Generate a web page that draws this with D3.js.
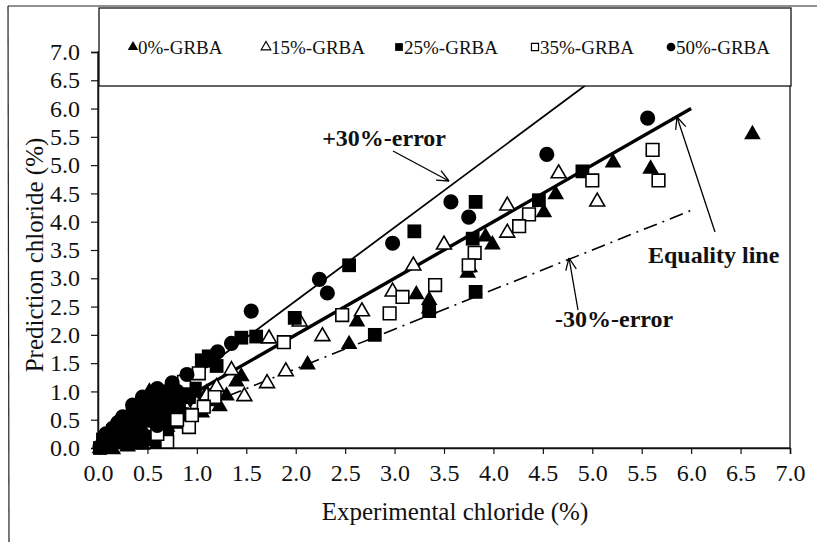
<!DOCTYPE html>
<html><head><meta charset="utf-8">
<script src="https://cdn.jsdelivr.net/npm/d3@7"></script>
<style>
html,body{margin:0;padding:0;background:#fff;}
svg{display:block;font-family:"Liberation Serif","Times New Roman",serif;}
</style></head>
<body>
<svg id="chart" width="817" height="542"></svg>
<script>
// ---------- DATA ----------
const tickValues = [0,0.5,1,1.5,2,2.5,3,3.5,4,4.5,5,5.5,6,6.5,7];
const legendLabels = ["0%-GRBA","15%-GRBA","25%-GRBA","35%-GRBA","50%-GRBA"];

const grba0 = [ // filled triangle
 [6.62,5.57],[5.21,5.07],[5.59,4.96],[4.63,4.51],[4.51,4.19],[3.99,3.62],[3.92,3.76],
 [3.74,3.12],[3.76,3.22],[3.22,2.74],[3.35,2.49],[3.35,2.64],[2.62,2.26],[2.54,1.86],[2.12,1.50],
 [1.40,1.20],[1.45,1.29],[1.23,0.76],[1.15,0.85],[1.30,0.95],[0.52,1.02],
 [0.02,0.02],[0.05,0.08],[0.08,0.04],[0.10,0.15],[0.12,0.10],[0.15,0.22],[0.18,0.12],[0.20,0.30],
 [0.22,0.20],[0.25,0.35],[0.28,0.25],[0.30,0.45],[0.33,0.30],[0.36,0.50],[0.40,0.42],[0.42,0.60],
 [0.45,0.35],[0.48,0.80],[0.50,0.55],[0.58,0.60],[0.62,0.75],[0.65,0.50],[0.70,0.70],
 [0.75,0.62],[0.80,0.85],[0.85,0.55],[0.90,0.90],[0.95,0.70],[1.00,0.90],[1.05,0.65],[1.10,1.00],
 [0.15,0.00],[0.30,0.05],[0.45,0.08],[0.60,0.10],
 [0.05,0.20],[0.10,0.30],[0.20,0.50],[0.25,0.15],[0.35,0.20],[0.40,0.65],[0.55,0.30],[0.60,0.85],
 [0.70,0.40],[0.80,0.45],[0.90,0.55]
];
const grba15 = [ // open triangle
 [4.66,4.88],[5.05,4.38],[4.14,4.31],[4.14,3.83],[3.50,3.62],[3.19,3.25],[2.98,2.79],
 [2.67,2.44],[2.27,2.00],[1.73,1.96],[1.90,1.38],[2.04,2.26],[1.71,1.17],[1.48,0.94],
 [1.35,1.40],[1.20,1.10],[1.10,0.95],[1.00,0.80],[0.90,0.70],[0.80,0.60],[0.70,0.50],
 [0.60,0.45],[0.50,0.35],[0.40,0.30],[0.30,0.20],[0.20,0.12],[0.10,0.08],[0.05,0.03],[0.55,0.65]
];
const grba25 = [ // filled square
 [4.90,4.89],[4.46,4.38],[3.82,4.35],[3.79,3.70],[3.82,2.76],[3.20,3.83],[3.35,2.42],
 [2.54,3.23],[1.99,2.30],[2.80,2.00],[1.45,1.95],[1.60,1.97],[1.12,1.62],[1.05,1.55],[1.20,1.45],
 [0.02,0.00],[0.08,0.05],[0.12,0.15],[0.18,0.25],[0.22,0.18],[0.28,0.35],[0.32,0.28],[0.38,0.45],
 [0.42,0.38],[0.48,0.55],[0.52,0.48],[0.58,0.65],[0.62,0.58],[0.68,0.75],[0.72,0.68],[0.78,0.85],
 [0.82,0.78],[0.88,0.95],[0.92,0.90],[0.98,1.05],[0.40,0.10],[0.55,0.20],[0.70,0.35],
 [0.05,0.15],[0.15,0.30],[0.25,0.45],[0.35,0.60],[0.45,0.70],[0.55,0.80],[0.65,0.90],[0.30,0.10],
 [0.50,0.15],[0.65,0.25],[0.75,0.50],[0.85,0.60]
];
const grba35 = [ // open square
 [5.61,5.27],[5.67,4.73],[5.00,4.73],[4.36,4.13],[4.26,3.92],[3.81,3.45],[3.75,3.23],
 [3.41,2.88],[3.08,2.67],[2.95,2.38],[2.47,2.35],[1.88,1.87],[0.87,1.17],[1.18,0.90],
 [0.92,0.37],[0.70,0.11],[1.07,0.73],[0.95,0.58],[1.02,1.32],[0.80,0.50],[0.60,0.25]
];
const grba50 = [ // filled circle
 [5.56,5.83],[4.54,5.19],[3.57,4.35],[3.75,4.08],[2.98,3.62],[2.24,2.98],[2.32,2.74],
 [1.55,2.42],[1.35,1.85],[1.21,1.70],[1.10,1.55],[0.90,1.30],[0.35,0.76],[0.25,0.55],
 [0.15,0.35],[0.05,0.10],[0.10,0.20],[0.45,0.90],[0.60,1.05],[0.75,1.15],[0.80,1.00],
 [0.02,0.02],[0.30,0.50],[0.50,0.70],[0.65,0.85],
 [0.08,0.25],[0.20,0.45],[0.40,0.60],[0.55,0.90],[0.70,1.00],[0.12,0.05],[0.25,0.10],[0.45,0.25],[0.60,0.40]
];

// ---------- CHART ----------
const svg = d3.select("#chart");
const x = d3.scaleLinear().domain([0,7]).range([98,790]);
const y = d3.scaleLinear().domain([0,7]).range([448,52]);
const fmt = d3.format(".1f");

// outer page border
svg.append("line").attr("x1",8).attr("y1",6).attr("x2",817).attr("y2",6).attr("stroke","#222").attr("stroke-width",1.2);
svg.append("line").attr("x1",8).attr("y1",6).attr("x2",9).attr("y2",542).attr("stroke","#222").attr("stroke-width",1.2);

// plot frame
svg.append("rect").attr("x",x(0)).attr("y",y(7)).attr("width",x(7)-x(0)).attr("height",y(0)-y(7))
  .attr("fill","none").attr("stroke","#111").attr("stroke-width",1.3);

// axes
const yAxis = svg.append("g").attr("transform",`translate(${x(0)},0)`)
  .call(d3.axisLeft(y).tickValues(tickValues).tickFormat(fmt).tickSize(7).tickPadding(11));
const xAxis = svg.append("g").attr("transform",`translate(0,${y(0)})`)
  .call(d3.axisBottom(x).tickValues(tickValues).tickFormat(fmt).tickSize(6).tickPadding(10));
[yAxis,xAxis].forEach(g=>{
  g.select(".domain").attr("stroke","#111").attr("stroke-width",1.5);
  g.selectAll(".tick line").attr("stroke","#111").attr("stroke-width",1.2);
  g.selectAll(".tick text").attr("font-family","Liberation Serif").attr("font-size",24).attr("fill","#111");
});

// axis titles
svg.append("text").attr("x",455).attr("y",520).attr("text-anchor","middle")
  .attr("font-size",25).attr("fill","#111").text("Experimental chloride (%)");
svg.append("text").attr("transform","translate(43,255) rotate(-90)").attr("text-anchor","middle")
  .attr("font-size",25).attr("fill","#111").text("Prediction chloride (%)");

// reference lines
const clip = svg.append("clipPath").attr("id","pc").append("rect")
  .attr("x",x(0)).attr("y",y(7)).attr("width",x(7)-x(0)).attr("height",y(0)-y(7));
const lineG = svg.append("g").attr("clip-path","url(#pc)");
const ln = d3.line().x(d=>x(d[0])).y(d=>y(d[1]));
const eqLine = [[0,0],[6,6]];
const plusLine = [[0,0],[7/1.3,7]];
const minusLine = [[0,0],[6,4.2]];

// markers
const sym = {
  tri: d3.symbol().type(d3.symbolTriangle).size(120),
  triO: d3.symbol().type(d3.symbolTriangle).size(96),
  sq: d3.symbol().type(d3.symbolSquare).size(190),
  sqO: d3.symbol().type(d3.symbolSquare).size(160),
  circ: d3.symbol().type(d3.symbolCircle).size(180)
};
const series = [
  {data:grba0, s:sym.tri, fill:"#000", stroke:"none", sw:0, dy:1.5},
  {data:grba15, s:sym.triO, fill:"#fff", stroke:"#000", sw:1.6, dy:1.5},
  {data:grba25, s:sym.sq, fill:"#000", stroke:"none", sw:0, dy:0},
  {data:grba35, s:sym.sqO, fill:"#fff", stroke:"#000", sw:1.6, dy:0},
  {data:grba50, s:sym.circ, fill:"#000", stroke:"none", sw:0, dy:0}
];
const ptsG = svg.append("g");
series.forEach(se=>{
  ptsG.append("g").selectAll("path").data(se.data).join("path")
    .attr("transform",d=>`translate(${x(d[0])},${y(d[1])+se.dy})`)
    .attr("d",se.s()).attr("fill",se.fill).attr("stroke",se.stroke).attr("stroke-width",se.sw);
});

lineG.append("path").datum(plusLine).attr("d",ln).attr("fill","none").attr("stroke","#000").attr("stroke-width",1.8);
lineG.append("path").datum(minusLine).attr("d",ln).attr("fill","none").attr("stroke","#000").attr("stroke-width",1.6)
  .attr("stroke-dasharray","14,6,2,6");
lineG.append("path").datum(eqLine).attr("d",ln).attr("fill","none").attr("stroke","#000").attr("stroke-width",3.4);

// annotations with open arrows
function arrow(x1,y1,x2,y2){
  const g = svg.append("g").attr("stroke","#000").attr("stroke-width",1.3).attr("fill","none");
  g.append("line").attr("x1",x1).attr("y1",y1).attr("x2",x2).attr("y2",y2);
  const a = Math.atan2(y2-y1,x2-x1), L=13, w=0.42;
  [a+Math.PI-w, a+Math.PI+w].forEach(b=>{
    g.append("line").attr("x1",x2).attr("y1",y2).attr("x2",x2+L*Math.cos(b)).attr("y2",y2+L*Math.sin(b));
  });
}
arrow(393,151,449,181);
arrow(715,232,677,117);
arrow(578,310,569,258);
svg.append("text").attr("x",446).attr("y",146).attr("text-anchor","end").attr("font-weight","bold")
  .attr("font-size",24).attr("fill","#111").text("+30%-error");
svg.append("text").attr("x",648).attr("y",263).attr("font-weight","bold")
  .attr("font-size",24).attr("fill","#111").text("Equality line");
svg.append("text").attr("x",555).attr("y",327).attr("font-weight","bold")
  .attr("font-size",24).attr("fill","#111").text("-30%-error");

// legend
const leg = svg.append("g");
leg.append("rect").attr("x",99).attr("y",8).attr("width",692).attr("height",78)
  .attr("fill","#fff").attr("stroke","#111").attr("stroke-width",1.3);
const legX = [133,266,399,535,671];
const legSym = [
  {s:d3.symbol().type(d3.symbolTriangle).size(48), fill:"#000", stroke:"none", sw:0},
  {s:d3.symbol().type(d3.symbolTriangle).size(40), fill:"#fff", stroke:"#000", sw:1.2},
  {s:d3.symbol().type(d3.symbolSquare).size(60), fill:"#000", stroke:"none", sw:0},
  {s:d3.symbol().type(d3.symbolSquare).size(50), fill:"#fff", stroke:"#000", sw:1.2},
  {s:d3.symbol().type(d3.symbolCircle).size(60), fill:"#000", stroke:"none", sw:0}
];
legendLabels.forEach((lab,i)=>{
  leg.append("path").attr("transform",`translate(${legX[i]},${47})`).attr("d",legSym[i].s())
    .attr("fill",legSym[i].fill).attr("stroke",legSym[i].stroke).attr("stroke-width",legSym[i].sw);
  leg.append("text").attr("x",legX[i]+5).attr("y",54).attr("font-size",19).attr("fill","#111").text(lab);
});
</script>
</body></html>
